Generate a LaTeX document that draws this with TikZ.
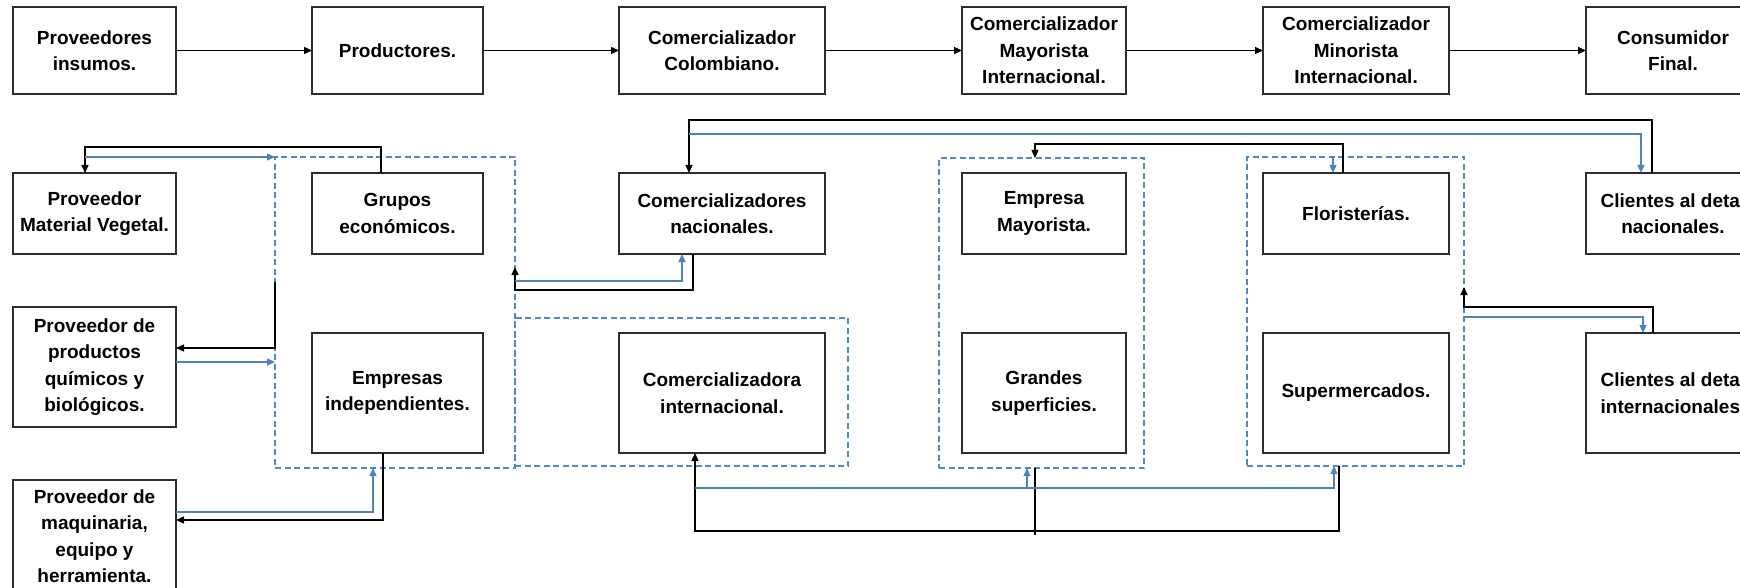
\documentclass[tikz,border=0pt]{standalone}
\usepackage{fontspec}
\setmainfont{Liberation Sans}
\usetikzlibrary{arrows.meta}
\definecolor{lnblue}{RGB}{79,129,189}
\definecolor{dshblue}{RGB}{84,135,200}
\definecolor{boxline}{RGB}{45,45,45}
\tikzset{
  box/.style={draw=boxline, line width=1.3pt, fill=white, inner sep=0pt, outer sep=0pt,
    align=center, font=\bfseries\fontsize{19}{26.5}\selectfont},
  grp/.style={draw=dshblue, line width=1.1pt, dash pattern=on 6pt off 3.5pt,
    inner sep=0pt, outer sep=0pt},
  blk/.style={draw=black, line width=1.3pt, -{Triangle[length=8pt,width=7pt]}},
  blkline/.style={draw=black, line width=1.3pt},
  blu/.style={draw=lnblue, line width=1.3pt, -{Triangle[length=8pt,width=7pt]}},
}
\begin{document}
\begin{tikzpicture}[x=1pt,y=-1pt]
\clip (0,0) rectangle (1740,588);
\fill[white] (0,0) rectangle (1740,588);

% dashed groups
\node[grp, minimum width=240pt, minimum height=311pt] (gA) at (395,312.5) {};
\node[grp, minimum width=333pt, minimum height=148pt] (gB) at (681.5,392) {};
\node[grp, minimum width=205pt, minimum height=310pt] (gC) at (1041.5,313) {};
\node[grp, minimum width=217pt, minimum height=309pt] (gD) at (1355.5,311.5) {};

% top row
\node[box, minimum width=163pt, minimum height=87pt] (p1) at (94.5,50.5) {Proveedores\\insumos.};
\node[box, minimum width=171pt, minimum height=87pt] (p2) at (397.5,50.5) {Productores.};
\node[box, minimum width=206pt, minimum height=87pt] (p3) at (722,50.5) {Comercializador\\Colombiano.};
\node[box, minimum width=164pt, minimum height=87pt] (p4) at (1044,50.5) {Comercializador\\Mayorista\\Internacional.};
\node[box, minimum width=186pt, minimum height=87pt] (p5) at (1356,50.5) {Comercializador\\Minorista\\Internacional.};
\node[box, minimum width=174pt, minimum height=87pt] (p6) at (1673,50.5) {Consumidor\\Final.};

% row 2
\node[box, minimum width=163pt, minimum height=81pt] (provmv) at (94.5,213.5) {Proveedor\\Material Vegetal.};
\node[box, minimum width=171pt, minimum height=81pt] (grupos) at (397.5,213.5) {Grupos\\económicos.};
\node[box, minimum width=206pt, minimum height=81pt] (comnac) at (722,213.5) {Comercializadores\\nacionales.};
\node[box, minimum width=164pt, minimum height=81pt] (empmay) at (1044,213.5) {Empresa\\Mayorista.};
\node[box, minimum width=186pt, minimum height=81pt] (flor) at (1356,213.5) {Floristerías.};
\node[box, minimum width=174pt, minimum height=81pt] (clinac) at (1673,213.5) {Clientes al detal\\nacionales.};

% row 3
\node[box, minimum width=163pt, minimum height=120pt] (provq) at (94.5,367) {Proveedor de\\productos\\químicos y\\biológicos.};
\node[box, minimum width=171pt, minimum height=120pt] (empind) at (397.5,393) {Empresas\\independientes.};
\node[box, minimum width=206pt, minimum height=120pt] (comint) at (722,393) {Comercializadora\\internacional.};
\node[box, minimum width=164pt, minimum height=120pt] (grandes) at (1044,393) {Grandes\\superficies.};
\node[box, minimum width=186pt, minimum height=120pt] (super) at (1356,393) {Supermercados.};
\node[box, minimum width=174pt, minimum height=120pt] (cliint) at (1673,393) {Clientes al detal\\internacionales.};

% row 4
\node[box, minimum width=163pt, minimum height=112pt] (provmaq) at (94.5,536) {Proveedor de\\maquinaria,\\equipo y\\herramienta.};

% top chain
\draw[blk] (p1) -- (p2);
\draw[blk] (p2) -- (p3);
\draw[blk] (p3) -- (p4);
\draw[blk] (p4) -- (p5);
\draw[blk] (p5) -- (p6);

% left side
\coordinate (k1) at (85,147);
\draw[blk] ([xshift=-16.5pt]grupos.north) |- (k1) -- ([xshift=-9.5pt]provmv.north);
\draw[blu] ([yshift=-10pt]k1) -- (gA.north west);
\draw[blk] ([yshift=30.5pt]gA.west) |- ([yshift=19pt]provq.east);
\coordinate (q4) at ([yshift=5pt]provq.east);
\draw[blu] (q4) -- (q4 -| gA.west);
\draw[blk] ([xshift=-14.5pt]empind.south) |- ([yshift=16pt]provmaq.east);
\draw[blu] ([yshift=24pt]provmaq.east) -| ([xshift=-22pt]gA.south);

% comercializadores nacionales
\draw[blk] ([xshift=-29pt]comnac.south) |- ([yshift=22.5pt]gA.east) -- ([yshift=45.5pt]gA.east);
\draw[blu] ([yshift=31.5pt]gA.east) -| ([xshift=-40pt]comnac.south);
\draw[blk] ([xshift=-21pt]clinac.north) -- ++(0,-53) -| ([xshift=-33pt]comnac.north);
\draw[blu] ([xshift=-33pt,yshift=39pt]comnac.north) -| ([xshift=-32pt]clinac.north);

% floristerias
\draw[blk] ([xshift=-13pt]flor.north) -- ++(0,-29) -| ([xshift=-6.5pt]gC.north);
\coordinate (f12) at ([xshift=-23pt]flor.north);
\draw[blu] (f12 |- gD.north) -- (f12);

% clientes internacionales
\draw[blk] ([xshift=-20pt]cliint.north) |- ([yshift=4.5pt]gD.east) -- ([yshift=24.5pt]gD.east);
\draw[blu] ([yshift=-5.5pt]gD.east) -| ([xshift=-30pt]cliint.north);

% bottom
\coordinate (k15) at (695,531);
\draw[blk] ([xshift=-16.5pt]gD.south) |- (k15) -- ([xshift=-27pt]comint.south);
\draw[blkline] ([xshift=-6.5pt]gC.south) -- ++(0,67);
\coordinate (k17) at (695,488);
\draw[blu] (k17) -| ([xshift=-21.5pt]gD.south);
\coordinate (k17b) at ([xshift=-14.5pt]gC.south);
\draw[blu] (k17b |- k17) -- (k17b);
\end{tikzpicture}
\end{document}
